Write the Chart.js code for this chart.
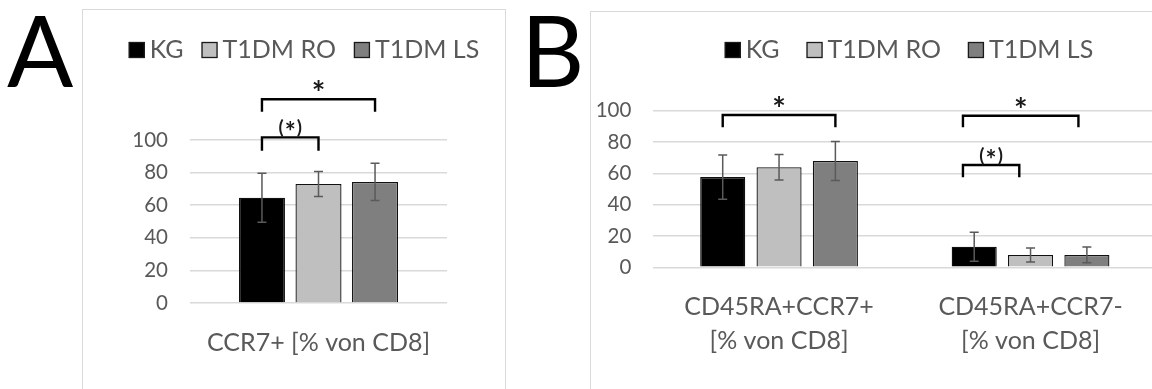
<!DOCTYPE html>
<html>
<head>
<meta charset="utf-8">
<script src="https://cdn.jsdelivr.net/npm/chart.js@4/dist/chart.umd.min.js"></script>
<style>
html,body{margin:0;padding:0;background:#fff;width:1152px;height:389px;overflow:hidden;position:relative;font-family:Lato,sans-serif}
.frame{position:absolute;border:1.5px solid #d9d9d9;box-sizing:border-box}
#frameA{left:82px;top:9px;width:424px;height:420px}
#frameB{left:590px;top:11px;width:620px;height:420px}
.letter{position:absolute;top:0;font-size:98px;line-height:1;color:#000;font-family:Lato,sans-serif}
#letterA{left:7px}
#letterB{left:521px}
canvas{position:absolute;top:0}
#chartA{left:83px}
#chartB{left:590px}
</style>
</head>
<body>
<div class="frame" id="frameA"></div>
<div class="frame" id="frameB"></div>
<div class="letter" id="letterA">A</div>
<div class="letter" id="letterB">B</div>
<canvas id="chartA" width="422" height="389" style="width:422px;height:389px"></canvas>
<canvas id="chartB" width="570" height="389" style="width:570px;height:389px"></canvas>
<script>
// ---- data ----
const seriesNames = ['KG', 'T1DM RO', 'T1DM LS'];
const seriesColors = ['#000000', '#bfbfbf', '#7f7f7f'];
const yTicks = [0, 20, 40, 60, 80, 100];

const categoriesA = ['CCR7+ [% von CD8]'];
const kgA = [64.6];
const roA = [73.0];
const lsA = [74.3];
const kgErrA = [15.0];
const roErrA = [7.6];
const lsErrA = [11.4];

const categoriesB = [['CD45RA+CCR7+', '[% von CD8]'], ['CD45RA+CCR7-', '[% von CD8]']];
const kgB = [57.6, 13.1];
const roB = [63.9, 7.9];
const lsB = [67.9, 7.9];
const kgErrB = [14.1, 9.3];
const roErrB = [8.2, 4.5];
const lsErrB = [12.5, 5.0];

// significance brackets: category, from/to series index, bracket level, leg end (y units), label
const bracketsA = [
  {cat: 0, from: 0, to: 2, level: 125, leg: 117.3, label: '*'},
  {cat: 0, from: 0, to: 1, level: 101.6, leg: 93.4, label: '(*)'}
];
const bracketsB = [
  {cat: 0, from: 0, to: 2, level: 97.3, leg: 89.4, label: '*'},
  {cat: 1, from: -0.2, to: 1.85, level: 96.8, leg: 89.4, label: '*'},
  {cat: 1, from: -0.2, to: 0.8, level: 65.3, leg: 57.5, label: '(*)'}
];

// ---- plugins ----
const errorBarPlugin = {
  id: 'errorBars',
  afterDatasetsDraw(chart, args, opts) {
    const ctx = chart.ctx, y = chart.scales.y;
    chart.data.datasets.forEach((ds, i) => {
      const meta = chart.getDatasetMeta(i);
      meta.data.forEach((bar, j) => {
        const v = ds.data[j], e = ds.errors[j];
        const yt = y.getPixelForValue(v + e), yb = y.getPixelForValue(v - e);
        ctx.save();
        ctx.strokeStyle = opts.color; ctx.lineWidth = opts.width;
        ctx.beginPath();
        ctx.moveTo(bar.x, yt); ctx.lineTo(bar.x, yb);
        ctx.moveTo(bar.x - opts.cap, yt); ctx.lineTo(bar.x + opts.cap, yt);
        ctx.moveTo(bar.x - opts.cap, yb); ctx.lineTo(bar.x + opts.cap, yb);
        ctx.stroke();
        ctx.restore();
      });
    });
  }
};

function seriesX(chart, cat, s) {
  const xs = chart.data.datasets.map((d, i) => chart.getDatasetMeta(i).data[cat].x);
  const step = xs[1] - xs[0];
  return xs[0] + s * step;
}

const bracketPlugin = {
  id: 'brackets',
  afterDraw(chart, args, opts) {
    const ctx = chart.ctx, y = chart.scales.y;
    (opts.items || []).forEach(b => {
      const x1 = seriesX(chart, b.cat, b.from), x2 = seriesX(chart, b.cat, b.to);
      const yl = y.getPixelForValue(b.level), yg = y.getPixelForValue(b.leg);
      const cx = (x1 + x2) / 2;
      ctx.save();
      ctx.strokeStyle = opts.color; ctx.lineWidth = opts.width;
      ctx.lineJoin = 'miter';
      ctx.beginPath();
      ctx.moveTo(x1, yg); ctx.lineTo(x1, yl); ctx.lineTo(x2, yl); ctx.lineTo(x2, yg);
      ctx.stroke();
      ctx.fillStyle = opts.textColor;
      ctx.textBaseline = 'alphabetic';
      if (b.label === '*') {
        ctx.textAlign = 'center';
        ctx.font = opts.starFont;
        ctx.fillText(b.label, cx, yl + opts.starDy);
      } else {
        // label like "(*)": parentheses and a larger asterisk, drawn piece by piece
        const parts = b.label.split('');
        const fonts = parts.map(c => (c === '*' ? opts.innerStarFont : opts.parenFont));
        const ws = parts.map((c, k) => { ctx.font = fonts[k]; return ctx.measureText(c).width; });
        const total = ws.reduce((a, w) => a + w, 0) + opts.parenSpacing * (parts.length - 1);
        let x = cx - total / 2;
        ctx.textAlign = 'left';
        parts.forEach((c, k) => {
          ctx.font = fonts[k];
          const dy = c === '*' ? opts.innerStarDy : opts.parenDy;
          ctx.fillText(c, x, yl + dy);
          x += ws[k] + opts.parenSpacing;
        });
      }
      ctx.restore();
    });
  }
};

const boxLegendPlugin = {
  id: 'boxLegend',
  afterDraw(chart, args, opts) {
    const ctx = chart.ctx;
    ctx.save();
    ctx.font = opts.font;
    const items = chart.data.datasets.map(ds => ({label: ds.label, fill: ds.backgroundColor, w: ctx.measureText(ds.label).width}));
    const total = items.reduce((s, it) => s + opts.box + opts.gap + it.w, 0) + opts.spacing * (items.length - 1);
    let x = opts.centerX - total / 2;
    items.forEach(it => {
      ctx.fillStyle = it.fill;
      ctx.fillRect(x, opts.y - opts.box / 2, opts.box, opts.box);
      ctx.strokeStyle = opts.boxBorder; ctx.lineWidth = 1.3;
      ctx.strokeRect(x + 0.5, opts.y - opts.box / 2 + 0.5, opts.box - 1, opts.box - 1);
      ctx.fillStyle = opts.color; ctx.textBaseline = 'middle'; ctx.textAlign = 'left';
      ctx.fillText(it.label, x + opts.box + opts.gap, opts.y + opts.textDy);
      x += opts.box + opts.gap + it.w + opts.spacing;
    });
    ctx.restore();
  }
};

// ---- chart builder ----
const TEXT = '#595959';
function makeDatasets(kg, ro, ls, kgE, roE, lsE) {
  const vals = [kg, ro, ls], errs = [kgE, roE, lsE];
  return seriesNames.map((n, i) => ({
    label: n,
    data: vals[i],
    errors: errs[i],
    backgroundColor: seriesColors[i],
    borderColor: '#111111',
    borderWidth: 1.3
  }));
}

function makeChart(id, labels, datasets, cfg) {
  return new Chart(document.getElementById(id), {
    type: 'bar',
    data: {labels, datasets: datasets.map(d => Object.assign(d, {categoryPercentage: cfg.cp, barPercentage: cfg.bp}))},
    plugins: [errorBarPlugin, bracketPlugin, boxLegendPlugin],
    options: {
      responsive: false,
      animation: false,
      layout: {padding: cfg.padding},
      plugins: {
        legend: {display: false},
        tooltip: {enabled: false},
        errorBars: {color: '#5a5a5a', width: 1.5, cap: 4.5},
        brackets: {items: cfg.brackets, color: '#000', width: 2.4, textColor: '#1a1a1a',
          starFont: 'bold 32px Lato', starDy: 6,
          parenFont: 'bold 19px Lato', parenDy: -3, innerStarFont: 'bold 26px Lato', innerStarDy: 4, parenSpacing: 1},
        boxLegend: {font: '25px Lato', color: TEXT, box: 16, gap: 5, spacing: cfg.legendSpacing,
          centerX: cfg.legendX, y: 50, textDy: 0, boxBorder: '#1a1a1a'}
      },
      scales: {
        x: {
          grid: {display: false},
          border: {display: false},
          ticks: {font: {family: 'Lato', size: 25, lineHeight: 1.35}, color: TEXT, padding: 15, maxRotation: 0, autoSkip: false},
          afterFit(s) { s.height = cfg.xAxisHeight; }
        },
        y: {
          min: 0, max: 100,
          afterBuildTicks(s) { s.ticks = yTicks.map(v => ({value: v})); },
          ticks: {font: {family: 'Lato', size: 20.5}, color: TEXT, padding: 22},
          grid: {color: '#d9d9d9', lineWidth: 1.5, drawTicks: false},
          border: {display: false},
          afterFit(s) { s.width = 57; }
        }
      }
    }
  });
}

function draw() {
  makeChart('chartA', categoriesA, makeDatasets(kgA, roA, lsA, kgErrA, roErrA, lsErrA), {
    cp: 0.66, bp: 0.814,
    padding: {left: 50, right: 58, top: 140, bottom: 6},
    xAxisHeight: 80,
    brackets: bracketsA, legendX: 221, legendSpacing: 18
  });
  makeChart('chartB', categoriesB, makeDatasets(kgB, roB, lsB, kgErrB, roErrB, lsErrB), {
    cp: 0.672, bp: 0.8,
    padding: {left: 6.3, right: 3.7, top: 110.7, bottom: 1.7},
    xAxisHeight: 120,
    brackets: bracketsB, legendX: 319, legendSpacing: 27
  });
}
if (document.fonts && document.fonts.load) {
  Promise.all([document.fonts.load('25px Lato'), document.fonts.load('bold 25px Lato')]).then(draw, draw);
} else { draw(); }
</script>
</body>
</html>
